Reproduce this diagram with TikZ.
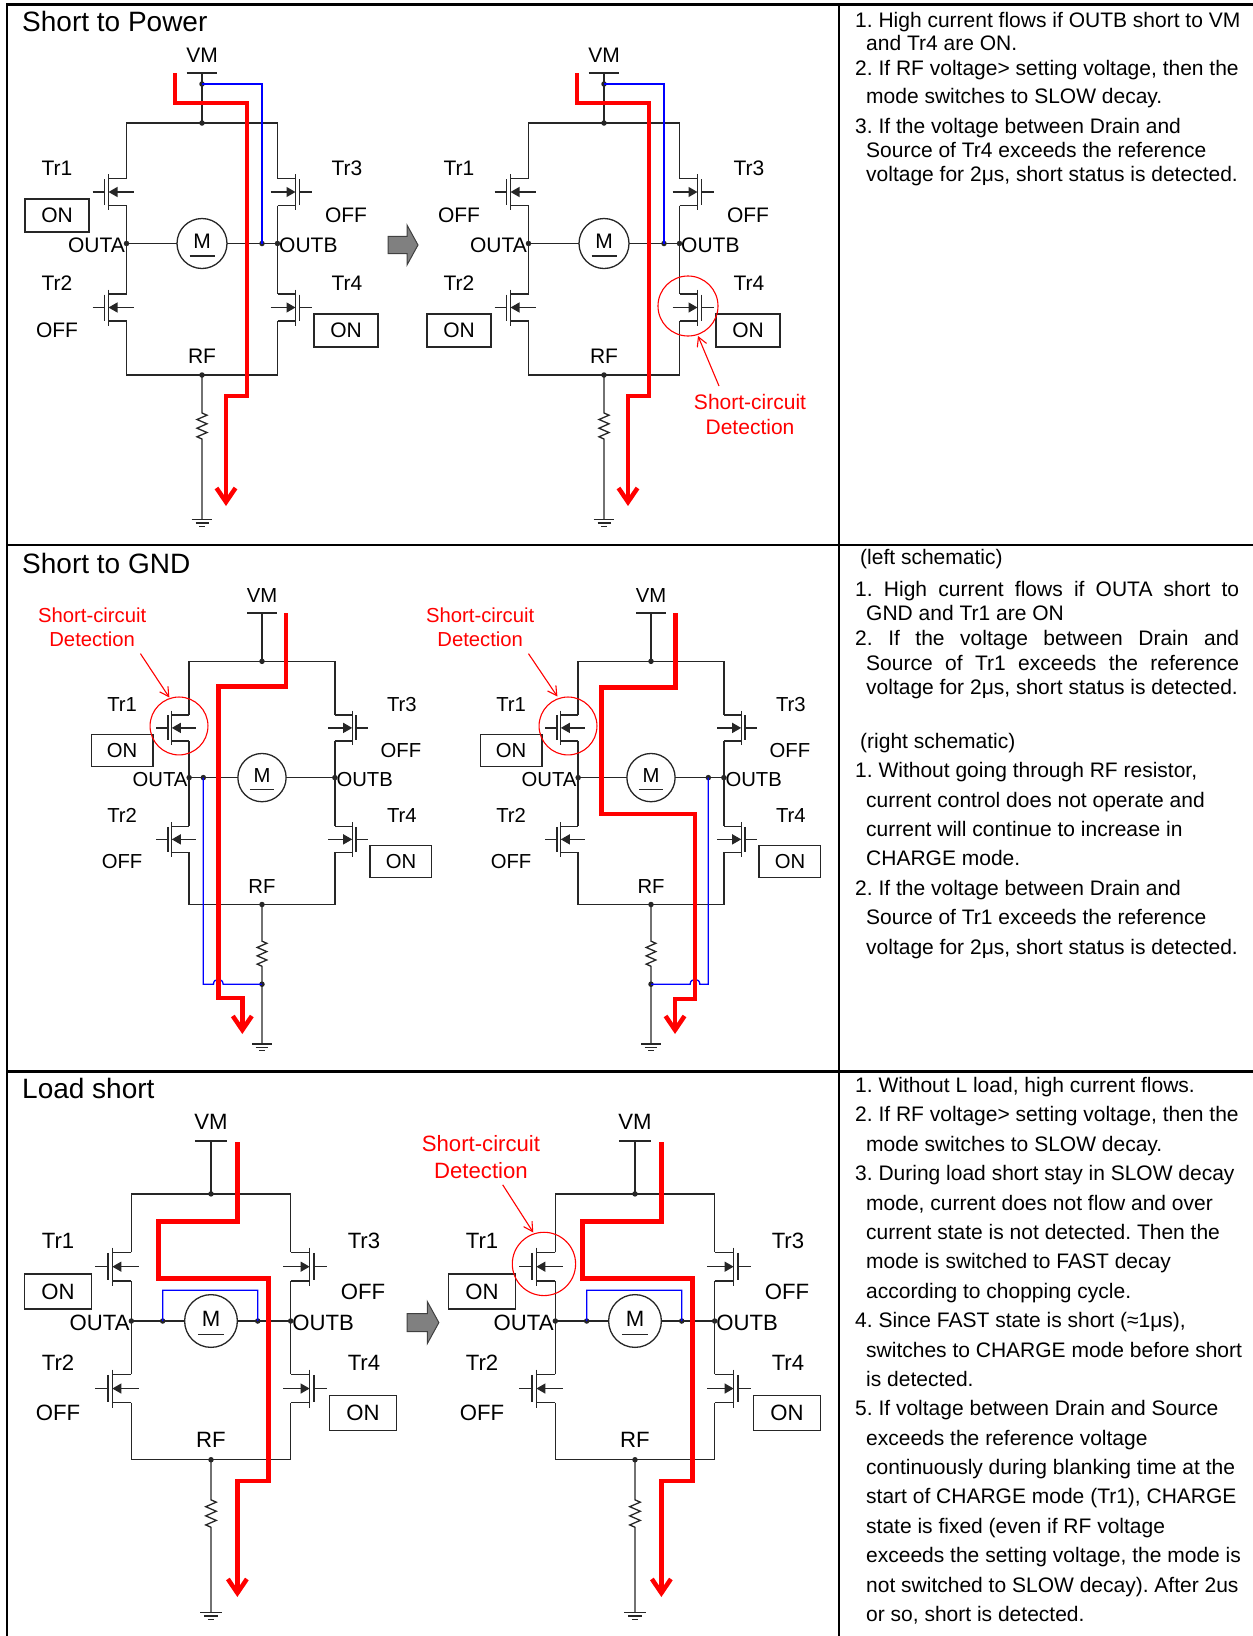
\documentclass[tikz,border=0pt]{standalone}
\usepackage{fontspec}
\setmainfont{Liberation Sans}
\usetikzlibrary{arrows.meta}
\frenchspacing

\tikzset{
  wire/.style={line width=1.3pt, black!85},
  dot/.style={circle, fill=black!85, inner sep=0pt, minimum size=5.5pt},
  lbl/.style={font=\fontsize{\lsz}{\lsz}\selectfont, inner sep=0pt},
  statebox/.style={lbl, draw=black!85, line width=1.3pt, minimum width=64pt*\brsc, minimum height=33pt*\brsc},
  flow/.style={red, line width=4.5pt, -{Straight Barb[length=14pt,width=19pt]}},
  bypass/.style={blue, line width=1.3pt},
  detect/.style={red, line width=1.1pt},
  detectlbl/.style={font=\fontsize{\lsz}{\lsk}\selectfont, text=red, align=center, inner sep=0pt},
  grayarrow/.style={fill=black!50, draw=black!75, line width=1pt},
  paneltitle/.style={font=\fontsize{28}{28}\selectfont, anchor=west, inner sep=0pt},
  txt/.style={font=\fontsize{21}{21}\selectfont, anchor=base west, inner sep=0pt}
}

% n-channel fet: #1 column x, #2 centre y, #3 = 1 gate left, -1 gate right
\newcommand\fet[3]{%
  \draw[wire] (#1,{#2-13.5}) -- ({#1-18*(#3)},{#2-13.5})
              (#1,{#2+13.5}) -- ({#1-18*(#3)},{#2+13.5})
              ({#1-18*(#3)},{#2-18}) -- ({#1-18*(#3)},{#2+18})
              ({#1-22*(#3)},{#2-13}) -- ({#1-22*(#3)},{#2+13})
              ({#1-34*(#3)},#2) -- ({#1-22*(#3)},#2);
  \draw[wire,-{Triangle[length=9pt,width=10pt]}] ({#1+7*(#3)},#2) -- ({#1-18*(#3)},#2);}

% h-bridge: #1 prefix, #2 motor centre, #3 scale, #4 states, #5 extras
\newcommand\hbridge[5]{%
  \begin{scope}[shift={(#2)},scale=#3]
    \pgfmathsetmacro\lsz{21*#3}\pgfmathsetmacro\lsk{25*#3}\def\brsc{#3}
    % supply and rails
    \draw[wire] (-15.3,-170.5) -- (15.3,-170.5) (0,-170.5) -- (0,-120.5);
    \draw[wire] (-75.5,-65) -- (-75.5,-120.5) -- (75.5,-120.5) -- (75.5,-65);
    \draw[wire] (-75.5,-38) -- (-75.5,50.5) (75.5,-38) -- (75.5,50.5);
    \draw[wire] (-75.5,77.5) -- (-75.5,131.5) -- (75.5,131.5) -- (75.5,77.5);
    \fet{-75.5}{-51.5}{1} \fet{-75.5}{64}{1}
    \fet{75.5}{-51.5}{-1} \fet{75.5}{64}{-1}
    % motor
    \draw[wire] (-75.5,0) -- (-25,0) (25,0) -- (75.5,0);
    \draw[wire] (0,0) circle[radius=25];
    \draw[wire] (-12.5,12.5) -- (12.5,12.5);
    \node[lbl] (#1M) at (0,-2) {M};
    % sense resistor and ground
    \draw[wire] (0,131.5) -- (0,169.5) -- (5,171.7) -- (-5,176) -- (5,180.3) -- (-5,184.7)
      -- (5,189) -- (-5,193.3) -- (0,195.5) -- (0,276);
    \draw[wire] (-10.3,276) -- (10.3,276) (-6.5,279.5) -- (6.5,279.5) (-3,283) -- (3,283);
    \node[dot] (#1top) at (0,-120.5) {};
    \node[dot] (#1rf) at (0,131.5) {};
    \node[dot] (#1oa) at (-75.5,0) {};
    \node[dot] (#1ob) at (75.5,0) {};
    % labels
    \node[lbl] (#1vm) at (0,-188.5) {VM};
    \node[lbl] (#1rfl) at (0,112.5) {RF};
    \node[lbl,anchor=east] (#1outa) at (-77,1.5) {OUTA};
    \node[lbl,anchor=west] (#1outb) at (77,1.5) {OUTB};
    \node[lbl] (#1t1) at (-145,-75.5) {Tr1};
    \node[lbl] (#1t2) at (-145,39.5) {Tr2};
    \node[lbl] (#1t3) at (145,-75.5) {Tr3};
    \node[lbl] (#1t4) at (145,39.5) {Tr4};
    #4
    #5
  \end{scope}}

\begin{document}
\begin{tikzpicture}[x=1pt,y=-1pt]
\useasboundingbox (0,0) rectangle (1253,1636);

% frame
\draw[line width=2.5pt] (1253,4.5) -- (7,4.5) -- (7,1636);
\draw[line width=2.5pt] (7,545) -- (1253,545) (7,1071.5) -- (1253,1071.5) (839,4.5) -- (839,1636);

\node[paneltitle] (ttl1) at (22,21) {Short to Power};
\node[paneltitle] (ttl2) at (22,563) {Short to GND};
\node[paneltitle] (ttl3) at (22,1088) {Load short};

% short to power
\hbridge{a}{202,243.5}{1}{%
  \node[statebox] (aS1) at (-145,-28) {ON};
  \node[lbl] (aS2) at (-145,87) {OFF};
  \node[lbl] (aS3) at (144,-28) {OFF};
  \node[statebox] (aS4) at (144,87) {ON};}{%
  \node[dot] (aB1) at (0,-159.5) {};
  \node[dot] (aB2) at (60,0) {};
  \draw[bypass] (aB1.center) -| (aB2.center);
  \draw[flow] (-27,-170.5) -- (-27,-140.5) -- (45,-140.5) -- (45,152.5) -- (24,152.5) -- (24,262.5);
  \draw[grayarrow] (186,-7.1) -- (205,-7.1) -- (205,-18.5) -- (216,1.5) -- (205,21.5) -- (205,10.1) -- (186,10.1) -- cycle;}

\hbridge{b}{604,243.5}{1}{%
  \node[lbl] (bS1) at (-145,-28) {OFF};
  \node[statebox] (bS2) at (-145,87) {ON};
  \node[lbl] (bS3) at (144,-28) {OFF};
  \node[statebox] (bS4) at (144,87) {ON};}{%
  \node[dot] (bB1) at (0,-159.5) {};
  \node[dot] (bB2) at (60,0) {};
  \draw[bypass] (bB1.center) -| (bB2.center);
  \draw[flow] (-27,-170.5) -- (-27,-140.5) -- (45,-140.5) -- (45,152.5) -- (24,152.5) -- (24,262.5);
  \draw[detect] (84,62.5) circle[radius=30];
  \node[detectlbl] (bD) at (146,171) {Short-circuit\\Detection};
  \coordinate (bDa) at (115,142.5); \coordinate (bDb) at (94,92.5);
  \draw[detect,-{Straight Barb[length=9pt,width=10pt]}] (bDa) -- (bDb);}

% short to gnd
\hbridge{c}{262,777.6}{0.965}{%
  \node[statebox] (cS1) at (-145,-28) {ON};
  \node[lbl] (cS2) at (-145,87) {OFF};
  \node[lbl] (cS3) at (144,-28) {OFF};
  \node[statebox] (cS4) at (144,87) {ON};}{%
  \node[dot] (cB1) at (-60.8,0) {};
  \node[dot] (cB2) at (0,214.1) {};
  \draw[bypass] (cB1.center) -- (-60.8,214.1) -- (-50.3,214.1)
    .. controls (-50.3,207.4) and (-40.3,207.4) .. (-40.3,214.1) -- (cB2.center);
  \draw[flow] (24.9,-170.3) -- (24.9,-94.6) -- (-45.3,-94.6) -- (-45.3,228.4) -- (-20.4,228.4) -- (-20.4,265.7);
  \draw[detect] (-86,-53.5) circle[radius=30];
  \node[detectlbl] (cD) at (-176,-155.5) {Short-circuit\\Detection};
  \coordinate (cDa) at (-126,-128.5); \coordinate (cDb) at (-96,-83);
  \draw[detect,-{Straight Barb[length=9pt,width=10pt]}] (cDa) -- (cDb);}

\hbridge{d}{651,777.6}{0.965}{%
  \node[statebox] (dS1) at (-145,-28) {ON};
  \node[lbl] (dS2) at (-145,87) {OFF};
  \node[lbl] (dS3) at (144,-28) {OFF};
  \node[statebox] (dS4) at (144,87) {ON};}{%
  \node[dot] (dB1) at (59.4,0) {};
  \node[dot] (dB2) at (0,214.1) {};
  \draw[bypass] (dB1.center) -- (59.4,214.1) -- (50.6,214.1)
    .. controls (50.6,207.4) and (40.6,207.4) .. (40.6,214.1) -- (dB2.center);
  \draw[flow] (25.6,-170.3) -- (25.6,-93.5) -- (-51.1,-93.5) -- (-51.1,37.5) -- (45.6,37.5) -- (45.6,229.4) -- (24.9,229.4) -- (24.9,265.7);
  \draw[detect] (-86,-53.5) circle[radius=30];
  \node[detectlbl] (dD) at (-177,-155.5) {Short-circuit\\Detection};
  \coordinate (dDa) at (-127,-128.5); \coordinate (dDb) at (-97,-84);
  \draw[detect,-{Straight Barb[length=9pt,width=10pt]}] (dDa) -- (dDb);}

% load short
\hbridge{e}{211,1321}{1.055}{%
  \node[statebox] (eS1) at (-145,-28) {ON};
  \node[lbl] (eS2) at (-145,87) {OFF};
  \node[lbl] (eS3) at (144,-28) {OFF};
  \node[statebox] (eS4) at (144,87) {ON};}{%
  \node[dot] (eB1) at (-45.8,0) {};
  \node[dot] (eB2) at (44.3,0) {};
  \draw[bypass] (eB1.center) -- (-45.8,-29.2) -- (44.3,-29.2) -- (eB2.center);
  \draw[flow] (25,-169.5) -- (25,-94.2) -- (-50,-94.2) -- (-50,-40.1) -- (54.3,-40.1) -- (54.3,151.5) -- (25,151.5) -- (25,261.6);
  \draw[grayarrow] (186,-7.1) -- (205,-7.1) -- (205,-18.5) -- (216,1.5) -- (205,21.5) -- (205,10.1) -- (186,10.1) -- cycle;}

\hbridge{f}{635,1321}{1.055}{%
  \node[statebox] (fS1) at (-145,-28) {ON};
  \node[lbl] (fS2) at (-145,87) {OFF};
  \node[lbl] (fS3) at (144,-28) {OFF};
  \node[statebox] (fS4) at (144,87) {ON};}{%
  \node[dot] (fB1) at (-45.8,0) {};
  \node[dot] (fB2) at (44.3,0) {};
  \draw[bypass] (fB1.center) -- (-45.8,-29.2) -- (44.3,-29.2) -- (fB2.center);
  \draw[flow] (25,-169.5) -- (25,-94.2) -- (-50,-94.2) -- (-50,-40.1) -- (54.3,-40.1) -- (54.3,151.5) -- (25,151.5) -- (25,261.6);
  \draw[detect] (-86.3,-54.1) circle[radius=30];
  \node[detectlbl] (fD) at (-146,-155.5) {Short-circuit\\Detection};
  \coordinate (fDa) at (-125.4,-129.1); \coordinate (fDb) at (-96.4,-83.9);
  \draw[detect,-{Straight Barb[length=9pt,width=10pt]}] (fDa) -- (fDb);}

% notes
\foreach \x/\y/\words [count=\i] in {
  855/20/{1. High current flows if OUTB short to VM},
  866/43/{and Tr4 are ON.},
  855/68/{2. If RF voltage> setting voltage, then the},
  866/96.3/{mode switches to SLOW decay.},
  855/126/{3. If the voltage between Drain and},
  866/149.6/{Source of Tr4 exceeds the reference},
  866/174.2/{voltage for 2μs, short status is detected.}}
  \node[txt] (na\i) at ({\x},{\y+7.5}) {\words};

\foreach \x/\y/\words [count=\i] in {
  860/557/{(left schematic)},
  855/589/{\makebox[384pt][s]{1. High current flows if OUTA short to}},
  866/613.4/{GND and Tr1 are ON},
  855/638.4/{\makebox[384pt][s]{2. If the voltage between Drain and}},
  866/663/{\makebox[373pt][s]{Source of Tr1 exceeds the reference}},
  866/686.6/{voltage for 2μs, short status is detected.},
  860/741/{(right schematic)},
  855/770/{1. Without going through RF resistor,},
  866/799.6/{current control does not operate and},
  866/828.8/{current will continue to increase in},
  866/858.4/{CHARGE mode.},
  855/887.7/{2. If the voltage between Drain and},
  866/917.3/{Source of Tr1 exceeds the reference},
  866/946.5/{voltage for 2μs, short status is detected.}}
  \node[txt] (nb\i) at ({\x},{\y+7.5}) {\words};

\foreach \x/\y/\words [count=\i] in {
  855/1085/{1. Without L load, high current flows.},
  855/1114.4/{2. If RF voltage> setting voltage, then the},
  866/1143.8/{mode switches to SLOW decay.},
  855/1173.2/{3. During load short stay in SLOW decay},
  866/1202.5/{mode, current does not flow and over},
  866/1231.9/{current state is not detected. Then the},
  866/1261.3/{mode is switched to FAST decay},
  866/1290.7/{according to chopping cycle.},
  855/1320.1/{4. Since FAST state is short (≈1μs),},
  866/1349.5/{switches to CHARGE mode before short},
  866/1378.9/{is detected.},
  855/1408.3/{5. If voltage between Drain and Source},
  866/1437.7/{exceeds the reference voltage},
  866/1467/{continuously during blanking time at the},
  866/1496.4/{start of CHARGE mode (Tr1), CHARGE},
  866/1525.8/{state is fixed (even if RF voltage},
  866/1555.2/{exceeds the setting voltage, the mode is},
  866/1584.6/{not switched to SLOW decay). After 2us},
  866/1614/{or so, short is detected.}}
  \node[txt] (nc\i) at ({\x},{\y+7.5}) {\words};
\end{tikzpicture}
\end{document}
